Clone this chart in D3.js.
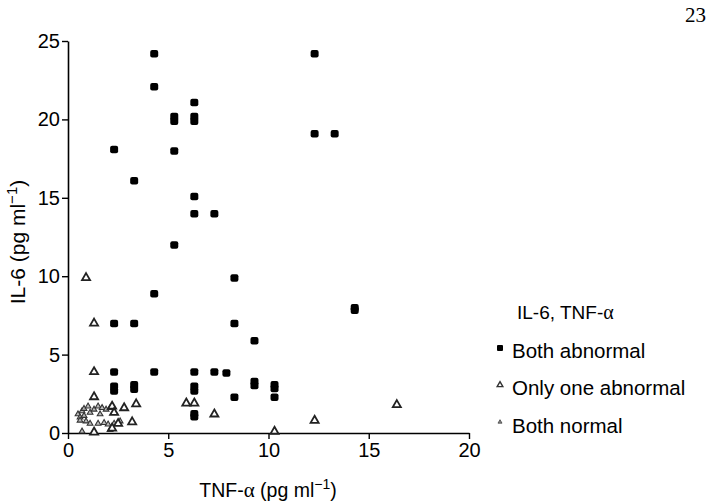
<!DOCTYPE html>
<html>
<head>
<meta charset="utf-8">
<script src="https://cdn.jsdelivr.net/npm/d3@7"></script>
<style>
  html, body { margin: 0; padding: 0; background: #fff; }
  svg { display: block; font-family: "Liberation Sans", Arial, Helvetica, sans-serif; }
</style>
</head>
<body>
<svg id="chart" width="708" height="504"></svg>
<script>
// ---- data ----
const xTicks = [0, 5, 10, 15, 20];
const yTicks = [0, 5, 10, 15, 20, 25];
const seriesNames = ["Both abnormal", "Only one abnormal", "Both normal"];

// Both abnormal: [TNF-α, IL-6]
const bothAbnormal = [
  [4.3,24.2],[4.3,22.1],[6.3,21.1],[6.3,20.2],[6.3,19.9],[5.3,20.2],[5.3,19.9],
  [2.3,18.1],[5.3,18.0],[3.3,16.1],[6.3,15.1],[6.3,14.0],[7.3,14.0],[5.3,12.0],
  [12.3,24.2],[12.3,19.1],[13.3,19.1],[4.3,8.9],[2.3,7.0],[3.3,7.0],
  [2.3,3.9],[4.3,3.9],[2.3,3.0],[2.3,2.7],[3.3,3.1],[3.3,2.8],
  [6.3,3.9],[7.3,3.9],[7.9,3.85],[6.3,3.0],[6.3,2.7],[6.3,1.25],[6.3,1.05],
  [8.3,2.3],[8.3,9.9],[8.3,7.0],[9.3,5.9],[9.3,3.3],[9.3,3.05],
  [10.3,3.1],[10.3,2.85],[10.3,2.3],[14.3,8.0],[14.3,7.85]
];
// Only one abnormal
const onlyOneAbnormal = [
  [0.9,9.9],[1.3,7.0],[1.3,3.9],[1.3,2.3],[2.2,1.7],[2.3,1.3],[2.8,1.6],
  [3.4,1.85],[3.2,0.7],[2.5,0.6],[2.2,0.3],[1.3,0.05],
  [5.9,1.9],[6.3,1.9],[7.3,1.2],[12.3,0.8],[16.4,1.8],[10.3,0.1]
];
// Both normal
const bothNormal = [
  [0.5,1.2],[0.6,1.0],[0.7,1.4],[0.8,1.55],[1.0,1.7],[1.1,1.3],[1.3,1.5],
  [1.5,1.7],[1.7,1.6],[1.9,1.5],[2.1,1.6],[0.6,0.8],[0.9,0.75],[1.1,0.6],
  [1.5,0.6],[1.8,0.65],[2.0,0.55],[2.3,0.6],[0.7,0.1],[2.1,0.2],[2.6,0.75],
  [0.8,1.1],[1.6,1.2]
];

// ---- layout ----
const svg = d3.select("#chart");
const x = d3.scaleLinear().domain([0, 20]).range([68, 469]);
const y = d3.scaleLinear().domain([0, 25]).range([433, 41]);

// axes
const xAxis = d3.axisBottom(x).tickValues(xTicks).tickSize(6).tickSizeOuter(0);
const yAxis = d3.axisLeft(y).tickValues(yTicks).tickSize(6).tickSizeOuter(0);

const gx = svg.append("g").attr("transform", "translate(0,433)").call(xAxis);
const gy = svg.append("g").attr("transform", "translate(68,0)").call(yAxis);
[gx, gy].forEach(g => {
  g.selectAll("path.domain").attr("stroke", "#000").attr("stroke-width", 1.6);
  g.selectAll(".tick line").attr("stroke", "#000").attr("stroke-width", 1.4);
  g.selectAll(".tick text").attr("fill", "#000")
    .style("font-family", "'Liberation Sans', Arial, sans-serif")
    .style("font-size", "20px");
});
gx.selectAll(".tick text").attr("dy", "0.95em").attr("y", 5);
gy.selectAll(".tick text").attr("x", -8);

// axis titles
const xt = svg.append("text").attr("x", 268).attr("y", 497)
  .attr("text-anchor", "middle").style("font-size", "19.5px").attr("fill", "#000");
xt.append("tspan").text("TNF-");
xt.append("tspan").style("font-family", "'Liberation Serif', serif").style("font-size", "21px").text("α");
xt.append("tspan").text(" (pg ml");
xt.append("tspan").attr("dy", -8).style("font-size", "14px").text("−1");
xt.append("tspan").attr("dy", 8).text(")");

const yt = svg.append("text").attr("transform", "translate(25,242) rotate(-90)")
  .attr("text-anchor", "middle").style("font-size", "21px").attr("fill", "#000");
yt.append("tspan").text("IL-6 (pg ml");
yt.append("tspan").attr("dy", -8).style("font-size", "15px").text("−1");
yt.append("tspan").attr("dy", 8).text(")");

// marks
const tri = d3.symbol().type(d3.symbolTriangle);
const plot = svg.append("g");

plot.selectAll("path.normal").data(bothNormal).join("path")
  .attr("class", "normal")
  .attr("transform", d => `translate(${x(d[0])},${y(d[1])})`)
  .attr("d", tri.size(14)())
  .attr("fill", "#bbb").attr("stroke", "#333").attr("stroke-width", 1.1);

plot.selectAll("path.one").data(onlyOneAbnormal).join("path")
  .attr("class", "one")
  .attr("transform", d => `translate(${x(d[0])},${y(d[1])})`)
  .attr("d", tri.size(28)())
  .attr("fill", "#fff").attr("stroke", "#222").attr("stroke-width", 1.8);

plot.selectAll("rect.both").data(bothAbnormal).join("rect")
  .attr("class", "both")
  .attr("x", d => x(d[0]) - 4).attr("y", d => y(d[1]) - 3.5)
  .attr("width", 8).attr("height", 7.5).attr("rx", 2)
  .attr("fill", "#000");

// legend
const lg = svg.append("g");
lg.append("text").attr("x", 517).attr("y", 319).style("font-size", "19px").attr("fill", "#000")
  .call(t => {
    t.append("tspan").text("IL-6, TNF-");
    t.append("tspan").style("font-family", "'Liberation Serif', serif").style("font-size", "20px").text("α");
  });
const legY = [351, 388, 426];
seriesNames.forEach((name, i) => {
  const g = lg.append("g").attr("transform", `translate(500,${legY[i]})`);
  if (i === 0) {
    g.append("rect").attr("x", -3).attr("y", -6).attr("width", 6).attr("height", 6).attr("rx", 1).attr("fill", "#000");
  } else if (i === 1) {
    g.append("path").attr("transform", "translate(0,-3)").attr("d", tri.size(14)())
      .attr("fill", "#fff").attr("stroke", "#333").attr("stroke-width", 1.4);
  } else {
    g.append("path").attr("transform", "translate(0,-4)").attr("d", tri.size(7)())
      .attr("fill", "#888").attr("stroke", "#444").attr("stroke-width", 0.8);
  }
  g.append("text").attr("x", 12).attr("y", 0).attr("dy", "0.35em")
    .style("font-size", "20.5px").attr("fill", "#000").text(name);
});

// page number fragment at top right
svg.append("text").attr("x", 706).attr("y", 22).attr("text-anchor", "end")
  .style("font-family", "'Liberation Serif', serif").style("font-size", "21px")
  .attr("fill", "#000").text("23");
</script>
</body>
</html>
